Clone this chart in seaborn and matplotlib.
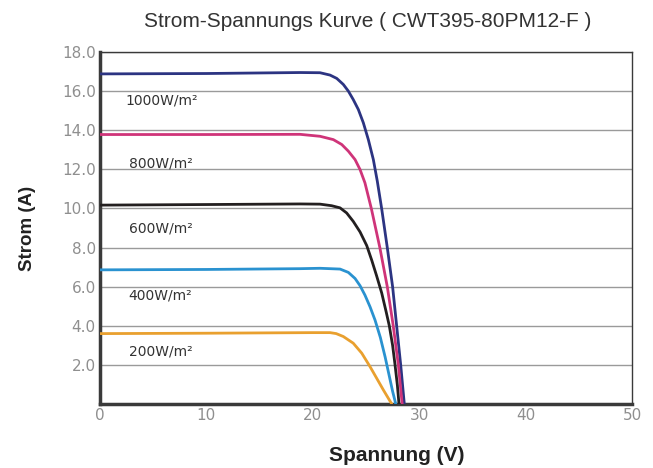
import pandas as pd
import matplotlib.pyplot as plt
import seaborn as sns

# Values (voltage in V, current in A)
v_1000 = [0, 10, 18.8, 20.68, 21.62, 22.25, 22.87, 23.34, 23.8, 24.28, 24.75, 25.22, 25.69,
          26.06, 26.47, 27.0, 27.5, 27.88, 28.26, 28.6]
i_1000 = [16.88, 16.9, 16.95, 16.94, 16.82, 16.65, 16.34, 16.0, 15.57, 15.06, 14.38, 13.52, 12.5,
          11.4, 10.0, 8.0, 6.0, 4.0, 2.0, 0.0]

v_800 = [0, 10, 18.8, 20.68, 21.93, 22.72, 23.34, 23.97, 24.44, 24.9, 25.5, 26.3, 27.0, 27.56,
         28.04, 28.4]
i_800 = [13.78, 13.78, 13.79, 13.69, 13.52, 13.27, 12.93, 12.5, 11.99, 11.31, 10.0, 8.0, 6.0, 4.0,
         2.0, 0.0]

v_600 = [0, 10, 18.8, 20.68, 21.77, 22.56, 23.18, 23.8, 24.44, 25.07, 25.54, 26.0, 26.48, 26.9,
         27.19, 27.5, 27.73, 27.95, 28.1]
i_600 = [10.17, 10.2, 10.23, 10.22, 10.14, 10.03, 9.77, 9.34, 8.8, 8.1, 7.35, 6.55, 5.67, 4.7,
         4.0, 3.0, 2.0, 0.95, 0.0]

v_400 = [0, 10, 18.8, 20.68, 22.56, 23.34, 23.97, 24.44, 24.9, 25.38, 25.85, 26.35, 26.8, 27.2,
         27.5, 27.8]
i_400 = [6.86, 6.88, 6.92, 6.94, 6.9, 6.73, 6.42, 6.05, 5.57, 4.97, 4.29, 3.4, 2.4, 1.4, 0.65, 0.0]

v_200 = [0, 10, 20, 21.62, 22.2, 22.87, 23.8, 24.6, 25.38, 26.0, 26.63, 27.42]
i_200 = [3.6, 3.62, 3.65, 3.65, 3.6, 3.45, 3.11, 2.6, 1.91, 1.32, 0.72, 0.0]

labels = ['1000W/m²', '800W/m²', '600W/m²', '400W/m²', '200W/m²']
colors = ['#2c3482', '#cf3479', '#231f20', '#2a92d0', '#e9a02f']
label_x = [2.35, 2.7, 2.7, 2.7, 2.7]
label_y = [15.5, 12.3, 9.0, 5.55, 2.7]

x_ticks = [0, 10, 20, 30, 40, 50]
y_ticks = [2, 4, 6, 8, 10, 12, 14, 16, 18]

curves = [(v_1000, i_1000), (v_800, i_800), (v_600, i_600), (v_400, i_400), (v_200, i_200)]
rows = []
for lab, (vs, cs) in zip(labels, curves):
    for v, c in zip(vs, cs):
        rows.append({'Spannung': v, 'Strom': c, 'Einstrahlung': lab})
df = pd.DataFrame(rows)

sns.set_style('white')
plt.rcParams['font.family'] = ['Liberation Sans', 'DejaVu Sans']

fig = plt.figure(figsize=(6.53, 4.68), dpi=100)
ax = fig.add_axes([100 / 653, 64 / 468, 532 / 653, 352 / 468])

sns.lineplot(data=df, x='Spannung', y='Strom', hue='Einstrahlung', hue_order=labels,
             palette=colors, estimator=None, linewidth=2.0, legend=False, ax=ax, zorder=3)
for line in ax.get_lines():
    line.set_solid_joinstyle('round')
    line.set_solid_capstyle('round')

ax.set_xlim(0, 50)
ax.set_ylim(0, 18)
ax.set_xticks(x_ticks)
ax.set_yticks(y_ticks)
ax.set_xticklabels([str(t) for t in x_ticks])
ax.set_yticklabels([f'{t:.1f}' for t in y_ticks])
ax.tick_params(axis='both', length=0, labelsize=11, labelcolor='#8f8f8f', pad=3)
for lbl in ax.get_xticklabels() + ax.get_yticklabels():
    lbl.set_family('DejaVu Sans')

ax.yaxis.grid(True, color='#9a9a9a', linewidth=1.0)
ax.set_axisbelow(True)

for side in ['left', 'bottom']:
    ax.spines[side].set_color('#3a3a3a')
    ax.spines[side].set_linewidth(2.5)
for side in ['top', 'right']:
    ax.spines[side].set_color('#3a3a3a')
    ax.spines[side].set_linewidth(1.0)

for lab, lx, ly in zip(labels, label_x, label_y):
    ax.text(lx, ly, lab, fontsize=10, color='#333333', va='center', ha='left',
            family='DejaVu Sans')

ax.set_xlabel('Spannung (V)', fontsize=15, fontweight='bold', color='#222222')
ax.set_ylabel('Strom (A)', fontsize=13.5, fontweight='bold', color='#222222')
ax.xaxis.set_label_coords(0.558, -0.119)
ax.yaxis.set_label_coords(-0.12, 0.5)
fig.text(0.5636, 0.953, 'Strom-Spannungs Kurve ( CWT395-80PM12-F )', fontsize=15,
         color='#333333', ha='center', va='center')

fig.savefig('out.png', dpi=100)
